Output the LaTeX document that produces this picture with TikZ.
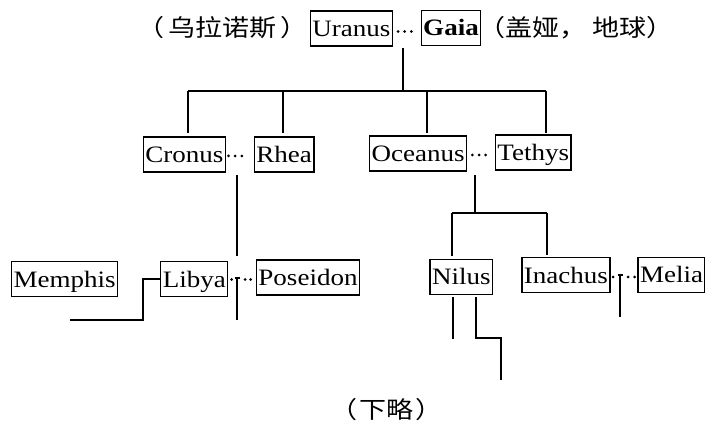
\documentclass[tikz,border=0pt]{standalone}
\usepackage{fontspec}
\setmainfont{Liberation Serif}[FakeStretch=1.15]
\newfontfamily\cjk{Noto Sans CJK SC}[FakeStretch=1.15]
\tikzset{
  person/.style={draw, line width=1.3pt, inner xsep=2pt, inner ysep=0pt,
    text height=25.5pt, text depth=9.5pt, font=\fontsize{23.5}{28}\selectfont},
  note/.style={inner sep=0pt, font=\cjk\fontsize{23.5}{28}\selectfont},
  link/.style={line width=2pt},
  wed/.style={circle, fill, inner sep=0pt, minimum size=3pt}
}
\begin{document}
\begin{tikzpicture}[x=1pt,y=-1pt]
\useasboundingbox (0,0) rectangle (705,422);
% generation 1
\node[person] (uranus) at (351.4,28.5) {Uranus};
\node[person] (gaia) at (451,28) {\bfseries Gaia};
\node[note, anchor=east] (uranuscn) at (308,28) {（\hspace{4pt}乌拉诺斯\hspace{4pt}）};
\node[note, anchor=west] (gaiacn) at (478,28) {（盖娅，\hspace{6pt}地球）};
\node[wed] (ug1) at (398,31.5) {};
\node[wed] (ug2) at (404.7,31.5) {};
\node[wed] (ug3) at (411.4,31.5) {};
% generation 2
\node[person] (cronus) at (184.4,154.5) {Cronus};
\node[person] (rhea) at (284.2,154.5) {Rhea};
\node[person] (oceanus) at (418.2,153.5) {Oceanus};
\node[person] (tethys) at (533.3,152.5) {Tethys};
\node[wed] (cr1) at (228.5,156) {};
\node[wed] (cr2) at (235.2,156) {};
\node[wed] (cr3) at (241.9,156) {};
\node[wed] (ot1) at (472.3,155) {};
\node[wed] (ot2) at (479,155) {};
\node[wed] (ot3) at (485.7,155) {};
% generation 3
\node[person] (memphis) at (64.7,279.2) {Memphis};
\node[person] (libya) at (194.3,279.2) {Libya};
\node[person] (poseidon) at (308,277.5) {Poseidon};
\node[person] (nilus) at (461.4,276.7) {Nilus};
\node[person] (inachus) at (565.9,275.3) {Inachus};
\node[person] (melia) at (671.6,275) {Melia};
\node[wed] (lp1) at (231.5,279.5) {};
\node[wed] (lp2) at (245,279.5) {};
\node[wed] (lp3) at (250.5,279.5) {};
\node[wed] (im1) at (613,277) {};
\node[wed] (im2) at (628,277) {};
\node[wed] (im3) at (634.5,277) {};
\node[note] (omit) at (386.7,410) {（\hspace{2pt}下略\hspace{2pt}）};
% connectors: Uranus + Gaia
\coordinate (ugtop) at (403,48);
\coordinate (ugbar) at (403,91);
\coordinate (barL) at (188,91);
\coordinate (barR) at (546,91);
\coordinate (b1) at (283,91);
\coordinate (b2) at (427,91);
\coordinate (d0) at (188,133);
\coordinate (d1) at (283,133);
\coordinate (d2) at (427,133);
\coordinate (d3) at (546,133);
\draw[link] (ugtop) -- (ugbar);
\draw[link] (barL) -- (barR);
\draw[link] (barL) -- (d0);
\draw[link] (b1) -- (d1);
\draw[link] (b2) -- (d2);
\draw[link] (barR) -- (d3);
% Cronus + Rhea
\coordinate (crtop) at (237,175);
\coordinate (crbot) at (237,256.5);
\draw[link] (crtop) -- (crbot);
% Libya + Poseidon
\coordinate (lpT) at (237,278.5);
\coordinate (lpTl) at (234.5,278.5);
\coordinate (lpTr) at (239.5,278.5);
\coordinate (lpB) at (237,320);
\draw[link] (lpTl) -- (lpTr);
\draw[link] (lpT) -- (lpB);
\coordinate (ly1) at (143,320);
\coordinate (ly2) at (70,320);
\draw[link] (libya.west) -| (ly1) -- (ly2);
% Oceanus + Tethys
\coordinate (ottop) at (475,175);
\coordinate (otbar) at (475,213);
\coordinate (obL) at (452,213);
\coordinate (obR) at (547,213);
\coordinate (oeL) at (452,256);
\coordinate (oeR) at (547,255);
\draw[link] (ottop) -- (otbar);
\draw[link] (obL) -- (obR);
\draw[link] (obL) -- (oeL);
\draw[link] (obR) -- (oeR);
% Nilus descendants
\coordinate (n1a) at (453,296.7);
\coordinate (n1b) at (453,339);
\coordinate (n2a) at (476,296.7);
\coordinate (n2b) at (476,338);
\coordinate (n2c) at (501,338);
\coordinate (n2d) at (501,380);
\draw[link] (n1a) -- (n1b);
\draw[link] (n2a) -- (n2b) -- (n2c) -- (n2d);
% Inachus + Melia
\coordinate (imT) at (620,275);
\coordinate (imTl) at (617.5,275);
\coordinate (imTr) at (622.5,275);
\coordinate (imB) at (620,316.7);
\draw[link] (imTl) -- (imTr);
\draw[link] (imT) -- (imB);
\end{tikzpicture}
\end{document}
